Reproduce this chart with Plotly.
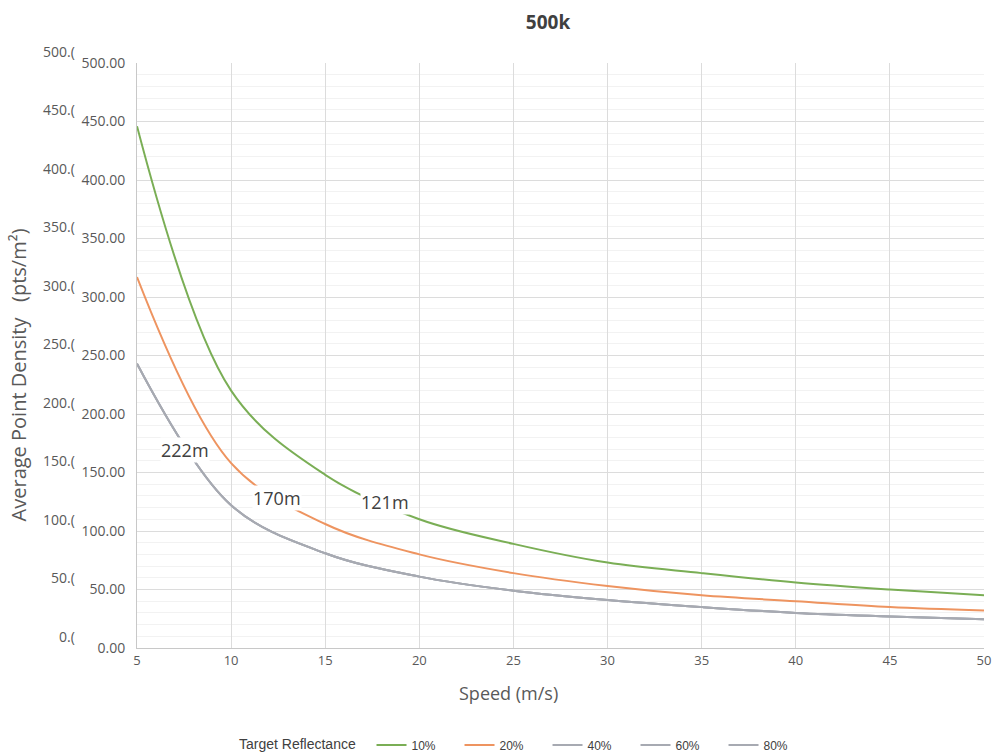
import plotly.graph_objects as go

speed = [5, 10, 15, 20, 25, 30, 35, 40, 45, 50]
series_names = ["10%", "20%", "40%", "60%", "80%"]
dens_10 = [446, 220, 148, 110, 89, 73, 64, 56, 50, 45]
dens_20 = [317, 158, 106, 80, 64, 53, 45, 40, 35, 32]
dens_40 = [243, 122, 81, 61, 49, 41, 35, 30, 27, 24.5]
dens_60 = [243, 122, 81, 61, 49, 41, 35, 30, 27, 24.5]
dens_80 = [243, 122, 81, 61, 49, 41, 35, 30, 27, 24.5]
series_vals = [dens_10, dens_20, dens_40, dens_60, dens_80]
colors = ["#7aae55", "#ee9460", "#a7aab2", "#a7aab2", "#a7aab2"]

y_ticks = [0, 50, 100, 150, 200, 250, 300, 350, 400, 450, 500]
y_ticktext = [f"{v:.2f}" for v in y_ticks]
y_ticktext_cut = [f"{v:.1f}"[:-1] + "(" for v in y_ticks]
x_ticks = [5, 10, 15, 20, 25, 30, 35, 40, 45, 50]

range_labels = ["222m", "170m", "121m"]
label_x = [7.55, 12.45, 18.2]
label_y = [169, 128, 125]

FONT = "Open Sans, Noto Sans, sans-serif"
L, R, T, B = 137, 12, 63, 108
PW = 996 - L - R
PH = 756 - T - B

fig = go.Figure()
for name, vals, c in zip(series_names, series_vals, colors):
    fig.add_trace(go.Scatter(
        x=speed, y=vals, name=name, mode="lines",
        line=dict(color=c, width=2, shape="spline", smoothing=1.0),
        hoverinfo="skip",
    ))

annotations = []
for t, xv, yv in zip(range_labels, label_x, label_y):
    annotations.append(dict(
        x=xv, y=yv, xref="x", yref="y", text=t, showarrow=False,
        font=dict(family=FONT, size=18, color="#404040"),
        bgcolor="white", borderpad=0,
    ))

# clipped duplicate tick labels at left
for v, t in zip(y_ticks, y_ticktext_cut):
    annotations.append(dict(
        x=(77 - L) / PW, xref="paper", y=v, yref="y", yshift=12,
        text=t, showarrow=False, xanchor="right", yanchor="middle",
        font=dict(family=FONT, size=14, color="#595959"),
    ))

annotations.append(dict(
    x=(18 - L) / PW, xref="paper", y=233, yref="y",
    text="Average Point Density   (pts/m²)", textangle=-90, showarrow=False,
    xanchor="center", yanchor="middle",
    font=dict(family=FONT, size=20, color="#595959"),
))
annotations.append(dict(
    x=(508 - L) / PW, xref="paper", y=0, yref="paper", yshift=-45,
    text="Speed (m/s)", showarrow=False, xanchor="center", yanchor="middle",
    font=dict(family=FONT, size=18, color="#595959"),
))

fig.update_layout(
    width=996, height=756,
    margin=dict(l=L, r=R, t=T, b=B, autoexpand=False),
    paper_bgcolor="white", plot_bgcolor="white",
    title=dict(text="<b>500k</b>", x=548 / 996, xanchor="center", y=1 - 22 / 756,
               yanchor="middle", font=dict(family=FONT, size=19, color="#404040")),
    showlegend=True,
    legend=dict(orientation="h", x=(237 - L) / PW, xanchor="left",
                y=-(745 - 648) / PH, yanchor="middle",
                title=dict(text="Target Reflectance  ", side="left"),
                font=dict(family="Liberation Sans Narrow, Arial Narrow, sans-serif", size=12, color="#404040"),
                entrywidth=43, entrywidthmode="pixels", tracegroupgap=0),
    annotations=annotations,
)
fig.update_xaxes(
    range=[5, 50], tickvals=x_ticks, ticktext=[str(v) for v in x_ticks],
    showgrid=True, gridcolor="#dcdcdc", gridwidth=1,
    showline=True, linecolor="#c8c8c8", linewidth=1,
    zeroline=False, ticks="", automargin=False,
    tickfont=dict(family=FONT, size=13, color="#595959"),
)
fig.update_yaxes(
    range=[0, 500], tickvals=y_ticks, ticktext=y_ticktext,
    showgrid=True, gridcolor="#dcdcdc", gridwidth=1,
    minor=dict(dtick=10, showgrid=True, gridcolor="#f2f2f2", gridwidth=1),
    showline=True, linecolor="#c8c8c8", linewidth=1,
    zeroline=False, ticks="outside", ticklen=8, tickcolor="rgba(0,0,0,0)",
    automargin=False,
    tickfont=dict(family=FONT, size=14, color="#595959"),
)

fig.write_html("out.html", config={"displayModeBar": False},
               post_script="document.body.style.margin='0';")
